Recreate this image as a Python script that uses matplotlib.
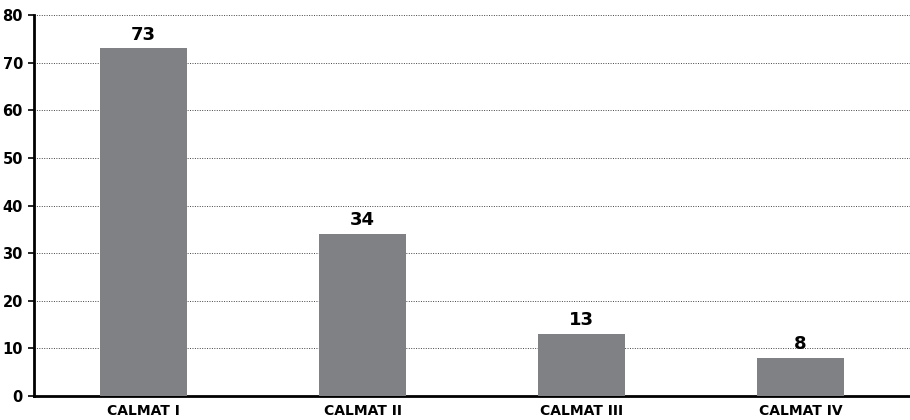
import matplotlib
matplotlib.use("Agg")
import matplotlib.pyplot as plt

categories = ["CALMAT I", "CALMAT II", "CALMAT III", "CALMAT IV"]
values = [73, 34, 13, 8]
y_ticks = [0, 10, 20, 30, 40, 50, 60, 70, 80]

plt.rcParams["font.family"] = ["Liberation Sans Narrow", "DejaVu Sans"]

fig = plt.figure(figsize=(9.1, 4.2), dpi=100)
ax = fig.add_axes([34 / 910, 24 / 420, 1 - 34 / 910, 381 / 420])

x = list(range(len(categories)))
ax.bar(x, values, width=0.4, color="#808184", zorder=3)
for xi, v in zip(x, values):
    ax.text(xi, v + 1.0, str(v), ha="center", va="bottom",
            fontsize=13, fontweight="bold")

ax.set_xlim(-0.5, 3.5)
ax.set_ylim(0, 80)
ax.set_yticks(y_ticks)
ax.set_yticklabels([str(t) for t in y_ticks], fontsize=10.5, fontweight="bold")
ax.set_xticks(x)
ax.set_xticklabels(categories, fontsize=10, fontweight="bold")
ax.tick_params(axis="x", length=0, pad=6)
ax.tick_params(axis="y", length=4, width=1.2, pad=4)

ax.grid(axis="y", linestyle=(0, (1, 1.5)), color="#444444", linewidth=0.7, zorder=0)
for side in ["top", "right"]:
    ax.spines[side].set_visible(False)
ax.spines["left"].set_linewidth(2)
ax.spines["bottom"].set_linewidth(2)

fig.savefig("out.png", dpi=100)
